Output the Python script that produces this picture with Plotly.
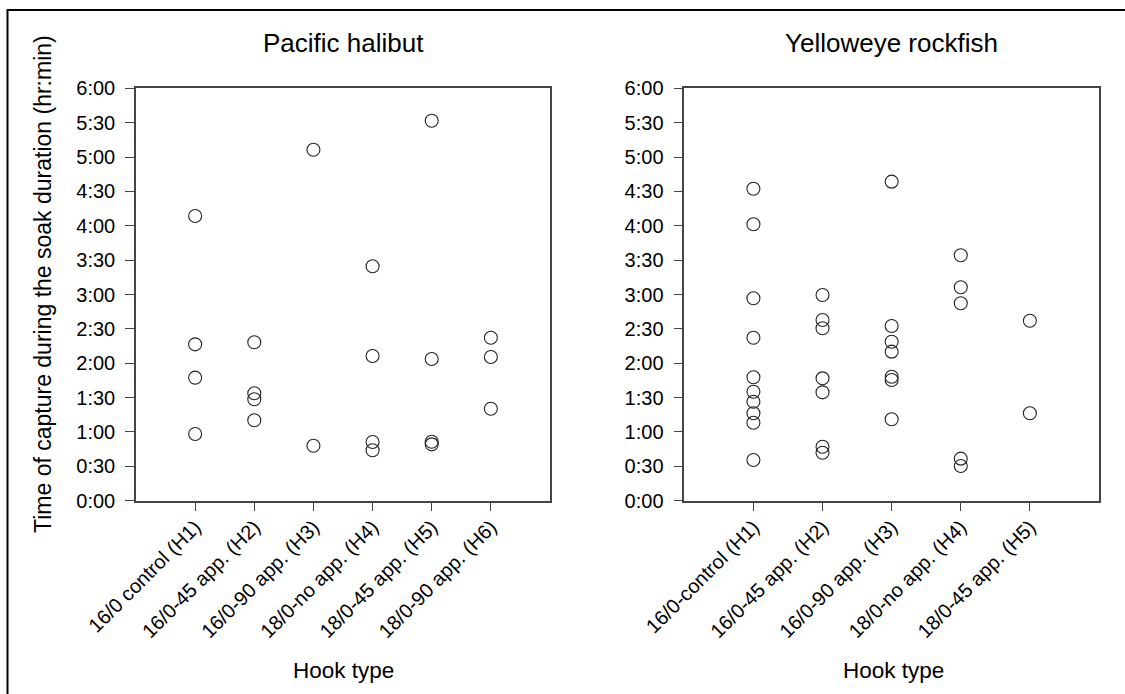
import plotly.graph_objects as go

W, H = 1125, 694

# ---- data (minutes since start of soak) ----
halibut_labels = ["16/0 control (H1)", "16/0-45 app. (H2)", "16/0-90 app. (H3)",
                  "18/0-no app. (H4)", "18/0-45 app. (H5)", "18/0-90 app. (H6)"]
halibut_h1 = [248.5, 136.5, 107.4, 58.2]
halibut_h2 = [138.3, 93.8, 88.5, 70.2]
halibut_h3 = [306.4, 48.0]
halibut_h4 = [204.6, 126.3, 51.2, 44.0]
halibut_h5 = [331.7, 123.7, 51.5, 49.2]
halibut_h6 = [142.3, 125.4, 80.3]

rock_labels = ["16/0-control (H1)", "16/0-45 app. (H2)", "16/0-90 app. (H3)",
               "18/0-no app. (H4)", "18/0-45 app. (H5)"]
rock_h1 = [272.3, 241.3, 176.7, 142.3, 107.7, 95.1, 86.4, 76.3, 68.1, 35.5]
rock_h2 = [179.6, 157.7, 150.5, 106.8, 94.6, 47.1, 41.9]
rock_h3 = [278.5, 152.5, 138.8, 130.1, 108.2, 105.4, 71.1]
rock_h4 = [214.3, 186.3, 172.3, 36.7, 30.3]
rock_h5 = [157.1, 76.3]

y_tickvals = [0, 30, 60, 90, 120, 150, 180, 210, 240, 270, 300, 330, 360]
y_ticktext = ["0:00", "0:30", "1:00", "1:30", "2:00", "2:30", "3:00",
              "3:30", "4:00", "4:30", "5:00", "5:30", "6:00"]

titles = ["Pacific halibut", "Yelloweye rockfish"]
x_title = "Hook type"
y_title = "Time of capture during the soak duration (hr:min)"

halibut_groups = [halibut_h1, halibut_h2, halibut_h3, halibut_h4, halibut_h5, halibut_h6]
rock_groups = [rock_h1, rock_h2, rock_h3, rock_h4, rock_h5]

FONT = "Liberation Sans, Arial, sans-serif"

def px_x(p):
    return p / W

def px_y(p):
    return 1 - p / H

fig = go.Figure()

marker = dict(symbol="circle-open", size=13, color="#222222", line=dict(width=1.1, color="#222222"))

for xa, ya, groups in [("x", "y", halibut_groups), ("x2", "y2", rock_groups)]:
    xs, ys = [], []
    for i, g in enumerate(groups):
        xs += [i + 1] * len(g)
        ys += g
    fig.add_trace(go.Scatter(x=xs, y=ys, mode="markers", marker=marker,
                             xaxis=xa, yaxis=ya, showlegend=False, hoverinfo="skip"))

axis_common = dict(showline=True, linecolor="#444444", linewidth=1.5, mirror=True,
                   showgrid=False, zeroline=False, ticks="outside", ticklen=9,
                   tickcolor="#444444", tickwidth=1.3, automargin=False,
                   tickfont=dict(family=FONT, size=20, color="black"))

y_dom = [px_y(500.7), px_y(88.3)]

fig.update_layout(
    width=W, height=H,
    margin=dict(l=0, r=0, t=0, b=0),
    paper_bgcolor="white", plot_bgcolor="white",
    xaxis=dict(domain=[px_x(136), px_x(550)], range=[0, 7],
               tickvals=list(range(1, len(halibut_labels) + 1)), ticktext=halibut_labels,
               tickangle=-45, anchor="y", ticklabelstandoff=-4, **axis_common),
    yaxis=dict(domain=y_dom, range=[0, 360], tickvals=y_tickvals, ticktext=y_ticktext,
               anchor="x", ticklabelstandoff=6, **axis_common),
    xaxis2=dict(domain=[px_x(684.3), px_x(1099)], range=[0, 6],
                tickvals=list(range(1, len(rock_labels) + 1)), ticktext=rock_labels,
                tickangle=-45, anchor="y2", ticklabelstandoff=-4, **axis_common),
    yaxis2=dict(domain=y_dom, range=[0, 360], tickvals=y_tickvals, ticktext=y_ticktext,
                anchor="x2", ticklabelstandoff=6, **axis_common),
)

ann = []
for cx, t in [(343, titles[0]), (891.7, titles[1])]:
    ann.append(dict(x=px_x(cx), y=px_y(43), xref="paper", yref="paper", text=t,
                    showarrow=False, xanchor="center", yanchor="middle",
                    font=dict(family=FONT, size=26, color="black")))
for cx in [343, 893]:
    ann.append(dict(x=px_x(cx), y=px_y(670), xref="paper", yref="paper", text=x_title,
                    showarrow=False, xanchor="center", yanchor="middle",
                    font=dict(family=FONT, size=22.5, color="black")))
ann.append(dict(x=px_x(43), y=px_y(284), xref="paper", yref="paper", text=y_title,
                showarrow=False, textangle=-90, xanchor="center", yanchor="middle",
                font=dict(family=FONT, size=23, color="black")))
fig.update_layout(annotations=ann)

fig.add_shape(type="rect", xref="paper", yref="paper",
              x0=px_x(7.5), x1=1.02, y0=-0.02, y1=px_y(10),
              line=dict(color="black", width=2), fillcolor="rgba(0,0,0,0)")

fig.write_html("out.html")
